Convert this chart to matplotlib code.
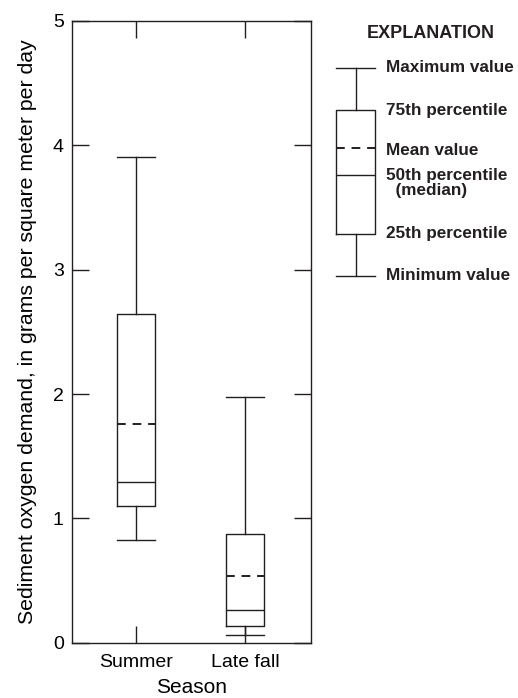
import matplotlib
matplotlib.use("Agg")
import matplotlib.pyplot as plt

plt.rcParams['font.family'] = ['Liberation Sans', 'DejaVu Sans']

# box statistics by season (grams per square meter per day)
seasons = ["Summer", "Late fall"]
whislo = [0.825, 0.06]
q1 = [1.10, 0.137]
med = [1.29, 0.265]
mean = [1.76, 0.54]
q3 = [2.64, 0.874]
whishi = [3.91, 1.98]

# schematic box for the explanation
expl_vals = {"whislo": 2.95, "q1": 3.29, "med": 3.76, "mean": 3.98, "q3": 4.28, "whishi": 4.625}
expl_labels = [("Maximum value", "whishi", 0.0),
               ("75th percentile", "q3", 0.0),
               ("Mean value", "mean", -0.02),
               ("50th percentile\n  (median)", "med", -0.06),
               ("25th percentile", "q1", 0.0),
               ("Minimum value", "whislo", 0.0)]

line_kw = dict(color="#231f20", linewidth=1.0)
box_props = dict(boxprops=line_kw, whiskerprops=line_kw, capprops=line_kw,
                 medianprops=line_kw,
                 meanprops=dict(color="#231f20", linewidth=1.4, linestyle=(0, (4.5, 3.5))))

fig = plt.figure(figsize=(5.18, 6.98), dpi=100)
ax = fig.add_axes([0.139, 0.079, 0.461, 0.891])

stats = []
for i, s in enumerate(seasons):
    stats.append(dict(label=s, whislo=whislo[i], q1=q1[i], med=med[i], mean=mean[i],
                      q3=q3[i], whishi=whishi[i], fliers=[]))
ax.bxp(stats, positions=[1, 2], widths=0.35, showmeans=True, meanline=True,
       showfliers=False, capwidths=0.35, **box_props)

ax.set_xlim(0.41, 2.605)
ax.set_ylim(0, 5)
ax.set_yticks([0, 1, 2, 3, 4, 5])
ax.tick_params(axis="y", direction="in", length=12.5, width=1.0, right=True,
               labelsize=14, pad=6, color="#231f20")
ax.tick_params(axis="x", direction="in", length=12.5, width=1.0, top=True,
               labelsize=14, pad=8, color="#231f20")
for sp in ax.spines.values():
    sp.set_linewidth(1.0)
    sp.set_color("#231f20")
ax.set_xlabel("Season", fontsize=15, labelpad=5)
ax.set_ylabel("Sediment oxygen demand, in grams per square meter per day",
              fontsize=15.3, labelpad=11)

# explanation panel, sharing the vertical scale of the main plot
lg = fig.add_axes([0.600, 0.079, 0.400, 0.891])
lg.axis("off")
ex = dict(label="", fliers=[], **expl_vals)
lg.bxp([ex], positions=[1], widths=0.35, showmeans=True, meanline=True,
       showfliers=False, capwidths=0.35, **box_props)
lg.text(1.69, 4.90, "EXPLANATION", fontsize=13, fontweight="bold",
        ha="center", va="center", color="#231f20")
for txt, key, dy in expl_labels:
    lg.text(1.28, expl_vals[key] + dy, txt, fontsize=12.3, fontweight="bold",
            ha="left", va="center", color="#231f20", linespacing=1.0)
lg.set_xlim(0.59, 2.49)
lg.set_ylim(0, 5)

fig.savefig("out.png", dpi=100)
